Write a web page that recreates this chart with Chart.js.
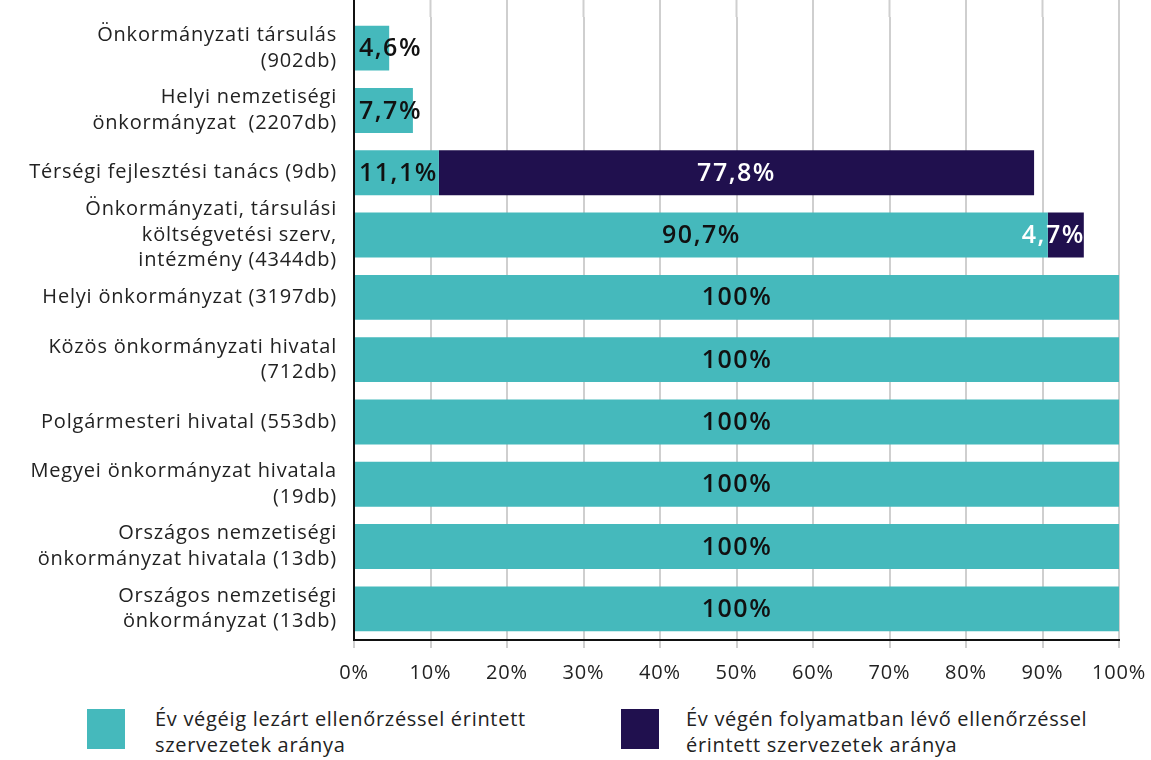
<!DOCTYPE html>
<html>
<head>
<meta charset="utf-8">
<script src="https://cdn.jsdelivr.net/npm/chart.js@4"></script>
<style>
  body { margin: 0; background: #fff; font-family: "Open Sans", sans-serif; color: #222; }
  #wrap { position: relative; width: 1151px; height: 760px; }
  #chart { position: absolute; left: 0; top: 0; }
  .key { position: absolute; width: 38px; height: 40px; top: 709px; }
  .keytext { position: absolute; top: 706px; font-size: 20px; letter-spacing: 0.7px; line-height: 26px; color: #222; }
</style>
</head>
<body>
<div id="wrap">
  <canvas id="chart" width="1151" height="692"></canvas>
  <div class="key" style="left:87px;background:#45b9bc"></div>
  <div class="keytext" style="left:155px">Év végéig lezárt ellenőrzéssel érintett<br>szervezetek aránya</div>
  <div class="key" style="left:621px;background:#20104e"></div>
  <div class="keytext" style="left:686px">Év végén folyamatban lévő ellenőrzéssel<br>érintett szervezetek aránya</div>
</div>
<script>
// ==================== Data ====================
const categories = [
  ["Önkormányzati társulás", "(902db)"],
  ["Helyi nemzetiségi", "önkormányzat  (2207db)"],
  "Térségi fejlesztési tanács (9db)",
  ["Önkormányzati, társulási", "költségvetési szerv,", "intézmény (4344db)"],
  "Helyi önkormányzat (3197db)",
  ["Közös önkormányzati hivatal", "(712db)"],
  "Polgármesteri hivatal (553db)",
  ["Megyei önkormányzat hivatala", "(19db)"],
  ["Országos nemzetiségi", "önkormányzat hivatala (13db)"],
  ["Országos nemzetiségi", "önkormányzat (13db)"]
];
const closedShare = [4.6, 7.7, 11.1, 90.7, 100, 100, 100, 100, 100, 100];
const ongoingShare = [0, 0, 77.8, 4.7, 0, 0, 0, 0, 0, 0];
const seriesNames = [
  "Év végéig lezárt ellenőrzéssel érintett szervezetek aránya",
  "Év végén folyamatban lévő ellenőrzéssel érintett szervezetek aránya"
];

const TEAL = "#45b9bc";
const NAVY = "#20104e";
const FONT = "'Open Sans', sans-serif";

// ==================== Plugins ====================
// wider text, closer to the original typeface
const spacing = {
  id: "spacing",
  beforeUpdate(chart) { chart.ctx.letterSpacing = "0.8px"; },
  beforeDraw(chart) { chart.ctx.letterSpacing = "0.8px"; }
};

// grid lines run up to the top edge of the picture
const gridExtend = {
  id: "gridExtend",
  beforeDatasetsDraw(chart) {
    const ctx = chart.ctx;
    const xs = chart.scales.x;
    const top = chart.chartArea.top;
    ctx.save();
    xs.ticks.forEach((t, i) => {
      const x = xs.getPixelForTick(i);
      ctx.strokeStyle = i === 0 ? "#111" : "#cfcfcf";
      ctx.lineWidth = 2;
      ctx.beginPath();
      ctx.moveTo(x, 0);
      ctx.lineTo(x, top);
      ctx.stroke();
    });
    ctx.restore();
  }
};

// value labels inside the bars
const barLabels = {
  id: "barLabels",
  afterDatasetsDraw(chart) {
    const ctx = chart.ctx;
    ctx.save();
    ctx.font = "600 25px " + FONT;
    ctx.letterSpacing = "1.5px";
    ctx.textBaseline = "middle";
    chart.data.datasets.forEach((ds, di) => {
      const meta = chart.getDatasetMeta(di);
      meta.data.forEach((bar, i) => {
        const v = ds.data[i];
        if (!v) return;
        const txt = (v === 100 ? "100" : v.toFixed(1).replace(".", ",")) + "%";
        const left = Math.min(bar.x, bar.base);
        const right = Math.max(bar.x, bar.base);
        const w = ctx.measureText(txt).width;
        ctx.fillStyle = di === 0 ? "#111" : "#fff";
        if (w + 8 <= right - left) {
          ctx.textAlign = "center";
          ctx.fillText(txt, (left + right) / 2, bar.y + 1);
        } else if (di === 0) {
          ctx.textAlign = "left";
          ctx.fillText(txt, left + 4, bar.y + 1);
        } else {
          ctx.textAlign = "right";
          ctx.fillText(txt, right + 1, bar.y + 1);
        }
      });
    });
    ctx.restore();
  }
};

// ==================== Chart ====================
const ctx = document.getElementById("chart").getContext("2d");
new Chart(ctx, {
  type: "bar",
  data: {
    labels: categories,
    datasets: [{
      label: seriesNames[0],
      data: closedShare,
      backgroundColor: TEAL,
      barPercentage: 0.72,
      categoryPercentage: 1
    }, {
      label: seriesNames[1],
      data: ongoingShare,
      backgroundColor: NAVY,
      barPercentage: 0.72,
      categoryPercentage: 1
    }]
  },
  options: {
    indexAxis: "y",
    responsive: false,
    animation: false,
    layout: { padding: { top: 17, right: 32, left: 0, bottom: 0 } },
    plugins: {
      legend: { display: false },
      tooltip: { enabled: false }
    },
    scales: {
      x: {
        stacked: true,
        min: 0,
        max: 100,
        ticks: {
          stepSize: 10,
          color: "#222",
          padding: 13,
          font: { family: FONT, size: 20 },
          callback: v => v + "%"
        },
        grid: { color: "#cfcfcf", lineWidth: 2, tickLength: 8, tickColor: "#cfcfcf" },
        border: { display: true, color: "#111", width: 2 },
        afterFit: s => { s.height = 52; s.paddingLeft = 0; s.paddingRight = 0; }
      },
      y: {
        stacked: true,
        ticks: {
          autoSkip: false,
          color: "#222",
          padding: 9,
          font: { family: FONT, size: 20, lineHeight: 1.28 }
        },
        grid: { display: false },
        border: { display: true, color: "#111", width: 2 },
        afterFit: s => { s.width = 354; s.paddingTop = 0; s.paddingBottom = 0; }
      }
    }
  },
  plugins: [spacing, gridExtend, barLabels]
});
</script>
</body>
</html>
